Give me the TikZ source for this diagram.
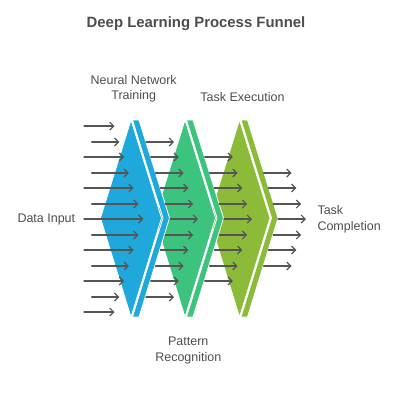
\documentclass[tikz,border=0pt]{standalone}
\usepackage{fontspec}
\setmainfont{Liberation Sans}
\usetikzlibrary{arrows.meta}
\definecolor{stageblue}{HTML}{1EA8DB}
\definecolor{stagegreen}{HTML}{3CC37E}
\definecolor{stageolive}{HTML}{8CBB3A}
\definecolor{inkgray}{HTML}{4D4D4D}
\definecolor{arrowgray}{HTML}{555555}
\begin{document}
\begin{tikzpicture}[x=1pt,y=-1pt,>={Straight Barb[length=4pt,width=8pt]},line join=round,line cap=round,font=\fontsize{12.5}{15.8}\selectfont,
	stage/.style={draw=white,line width=0.8pt},
	flow/.style={->,draw=arrowgray,line width=1.2pt},
	lbl/.style={text=inkgray,inner sep=0pt,align=center}]
	\useasboundingbox (0,0) rectangle (400,400);
	% stages, back to front
	\foreach \c/\col in {239.5/stageolive,185/stagegreen,131/stageblue}{
		\filldraw[stage,fill=\col] (\c-30.5,218)--(\c,120)--(\c+30.5,218)--(\c,317)--cycle;
		\filldraw[stage,fill=\col] (\c+1.5,120)--(\c+8,120)--(\c+38.5,218)--(\c+8,317)--(\c+1.5,317)--(\c+32,218)--cycle;
	}
	% flows
	\foreach \k in {-6,...,6}{
		\pgfmathsetmacro\ya{round(219+15.5*\k)}
		\pgfmathsetmacro\xs{mod(abs(\k),2)==1 ? 91.7 : 84}
		\pgfmathsetmacro\xe{143.3-4.8*abs(\k)}
		\draw[flow] (\xs,\ya)--(\xe,\ya);
	}
	\foreach \x/\n in {170/5,224/4,278/3}{
		\foreach \k in {-\n,...,\n}{
			\pgfmathsetmacro\ya{round(219+15.5*\k)}
			\pgfmathsetmacro\xs{\x-4.8*abs(\k)}
			\draw[flow] (\xs,\ya)--(\xs+28,\ya);
		}
	}
	% labels
	\node[lbl,font=\bfseries\fontsize{14.9}{17}\selectfont] (title) at (196,24) {Deep Learning Process Funnel};
	\node[lbl] (training) at (133.7,88.7) {Neural Network\\Training};
	\node[lbl] (execution) at (242.5,96.7) {Task Execution};
	\node[lbl,anchor=west] (input) at (17.3,219.3) {Data Input};
	\node[lbl,anchor=west,align=left] (completion) at (317.3,219.5) {Task\\Completion};
	\node[lbl] (recognition) at (188.3,350.2) {Pattern\\Recognition};
\end{tikzpicture}
\end{document}
